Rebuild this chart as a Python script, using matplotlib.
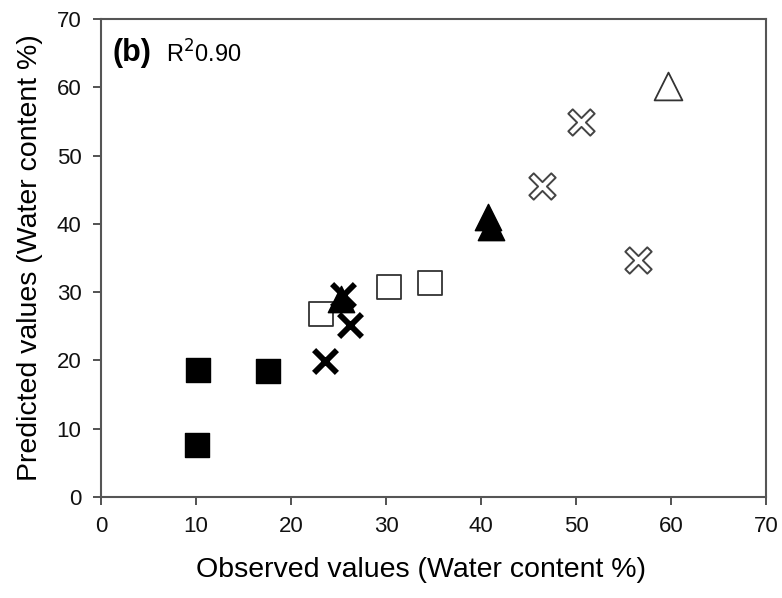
import matplotlib
matplotlib.use('Agg')
import matplotlib.pyplot as plt
import numpy as np
from matplotlib.path import Path

plt.rcParams['font.family'] = ['Liberation Sans', 'DejaVu Sans']

# observed vs predicted water content (%) by group
sq_fill_x = [10.2, 17.6, 10.1]
sq_fill_y = [18.6, 18.4, 7.6]
sq_open_x = [23.2, 30.3, 34.6]
sq_open_y = [26.8, 30.7, 31.3]
x_bold_x = [23.6, 26.2, 25.5]
x_bold_y = [19.9, 25.2, 29.6]
tri_fill_x = [25.3, 40.7, 41.0]
tri_fill_y = [29.0, 41.0, 39.6]
x_open_x = [50.5, 46.4, 56.5]
x_open_y = [54.9, 45.5, 34.7]
tri_open_x = [59.7]
tri_open_y = [60.2]

r2_text = '0.90'
panel = '(b)'

# outlined X marker with thin arms (plus shape rotated 45 deg)
a = 0.2
plus = np.array([(a, a), (a, 1), (-a, 1), (-a, a), (-1, a), (-1, -a),
                 (-a, -a), (-a, -1), (a, -1), (a, -a), (1, -a), (1, a), (a, a)])
c, s = np.cos(np.pi / 4), np.sin(np.pi / 4)
xmark = Path(plus @ np.array([[c, s], [-s, c]]), closed=True)

fig = plt.figure(figsize=(7.82, 5.98), dpi=100)
ax = fig.add_axes([0.129, 0.169, 0.851, 0.799])

ax.scatter(sq_fill_x, sq_fill_y, marker='s', s=300, c='black', zorder=3)
ax.scatter(sq_open_x, sq_open_y, marker='s', s=300, facecolors='white',
           edgecolors='#333333', linewidths=1.3, zorder=3)
ax.scatter(tri_fill_x, tri_fill_y, marker='^', s=360, c='black', zorder=4)
ax.scatter(x_bold_x, x_bold_y, marker='x', s=270, c='black', linewidths=4.2, zorder=5)
ax.scatter(x_open_x, x_open_y, marker=xmark, s=360, facecolors='white',
           edgecolors='#444444', linewidths=1.4, zorder=3)
ax.scatter(tri_open_x, tri_open_y, marker='^', s=400, facecolors='white',
           edgecolors='#333333', linewidths=1.3, zorder=3)

ax.set_xlim(0, 70)
ax.set_ylim(0, 70)
ax.set_xticks(range(0, 71, 10))
ax.set_yticks(range(0, 71, 10))
ax.tick_params(direction='out', length=6, width=1.3, labelsize=16,
               color='#444444', labelcolor='#111111', pad=8)
for sp in ax.spines.values():
    sp.set_linewidth(1.5)
    sp.set_color('#555555')

ax.set_xlabel('Observed values (Water content %)', fontsize=20.5, labelpad=16)
ax.xaxis.set_label_coords(0.481, -0.125)
ax.set_ylabel('Predicted values (Water content %)', fontsize=20.5, labelpad=10)

ax.text(0.017, 0.96, panel, transform=ax.transAxes, fontsize=22,
        fontweight='bold', va='top', ha='left')
ax.text(0.098, 0.955, r'R$^2$' + r2_text, transform=ax.transAxes,
        fontsize=17, va='top', ha='left')

fig.savefig('out.png', dpi=100, facecolor='white')
